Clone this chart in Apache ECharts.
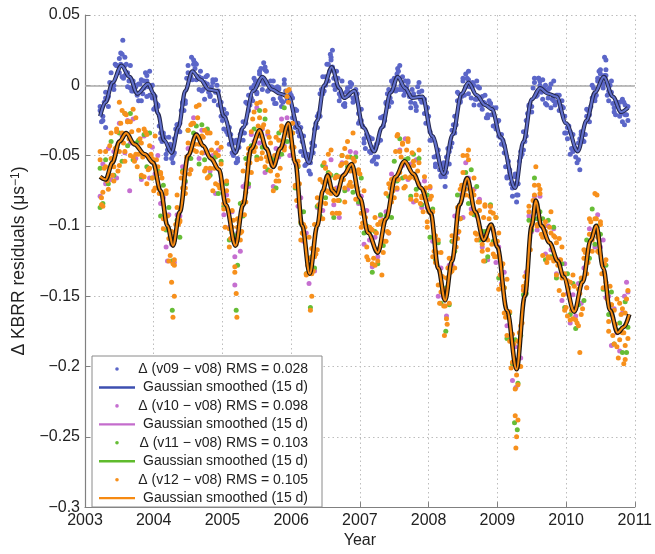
<!DOCTYPE html>
<html>
<head>
<meta charset="utf-8">
<script src="https://cdn.jsdelivr.net/npm/echarts@6/dist/echarts.min.js"></script>
<style>html,body{margin:0;padding:0;background:#fff}#c{width:655px;height:554px}</style>
</head>
<body>
<div id="c"></div>
<script>
// ---------- data (years, residuals in µs^-1) ----------
const years = [2003.22,2003.26,2003.30,2003.34,2003.38,2003.42,2003.46,2003.50,2003.54,2003.58,
2003.62,2003.66,2003.70,2003.74,2003.78,2003.82,2003.86,2003.90,2003.94,2003.98,
2004.02,2004.06,2004.10,2004.14,2004.18,2004.22,2004.26,2004.30,2004.34,2004.38,
2004.42,2004.46,2004.50,2004.54,2004.58,2004.62,2004.66,2004.70,2004.74,2004.78,
2004.82,2004.86,2004.90,2004.94,2004.98,2005.02,2005.06,2005.10,2005.14,2005.18,
2005.22,2005.26,2005.30,2005.34,2005.38,2005.42,2005.46,2005.50,2005.54,2005.58,
2005.62,2005.66,2005.70,2005.74,2005.78,2005.82,2005.86,2005.90,2005.94,2005.98,
2006.02,2006.06,2006.10,2006.14,2006.18,2006.22,2006.26,2006.30,2006.34,2006.38,
2006.42,2006.46,2006.50,2006.54,2006.58,2006.62,2006.66,2006.70,2006.74,2006.78,
2006.82,2006.86,2006.90,2006.94,2006.98,2007.02,2007.06,2007.10,2007.14,2007.18,
2007.22,2007.26,2007.30,2007.34,2007.38,2007.42,2007.46,2007.50,2007.54,2007.58,
2007.62,2007.66,2007.70,2007.74,2007.78,2007.82,2007.86,2007.90,2007.94,2007.98,
2008.02,2008.06,2008.10,2008.14,2008.18,2008.22,2008.26,2008.30,2008.34,2008.38,
2008.42,2008.46,2008.50,2008.54,2008.58,2008.62,2008.66,2008.70,2008.74,2008.78,
2008.82,2008.86,2008.90,2008.94,2008.98,2009.02,2009.06,2009.10,2009.14,2009.18,
2009.22,2009.26,2009.30,2009.34,2009.38,2009.42,2009.46,2009.50,2009.54,2009.58,
2009.62,2009.66,2009.70,2009.74,2009.78,2009.82,2009.86,2009.90,2009.94,2009.98,
2010.02,2010.06,2010.10,2010.14,2010.18,2010.22,2010.26,2010.30,2010.34,2010.38,
2010.42,2010.46,2010.50,2010.54,2010.58,2010.62,2010.66,2010.70,2010.74,2010.78,
2010.82,2010.86,2010.90];

const yearsMid = [2003.24,2003.28,2003.32,2003.36,2003.40,2003.44,2003.48,2003.52,2003.56,2003.60,
2003.64,2003.68,2003.72,2003.76,2003.80,2003.84,2003.88,2003.92,2003.96,2004.00,
2004.04,2004.08,2004.12,2004.16,2004.20,2004.24,2004.28,2004.32,2004.36,2004.40,
2004.44,2004.48,2004.52,2004.56,2004.60,2004.64,2004.68,2004.72,2004.76,2004.80,
2004.84,2004.88,2004.92,2004.96,2005.00,2005.04,2005.08,2005.12,2005.16,2005.20,
2005.24,2005.28,2005.32,2005.36,2005.40,2005.44,2005.48,2005.52,2005.56,2005.60,
2005.64,2005.68,2005.72,2005.76,2005.80,2005.84,2005.88,2005.92,2005.96,2006.00,
2006.04,2006.08,2006.12,2006.16,2006.20,2006.24,2006.28,2006.32,2006.36,2006.40,
2006.44,2006.48,2006.52,2006.56,2006.60,2006.64,2006.68,2006.72,2006.76,2006.80,
2006.84,2006.88,2006.92,2006.96,2007.00,2007.04,2007.08,2007.12,2007.16,2007.20,
2007.24,2007.28,2007.32,2007.36,2007.40,2007.44,2007.48,2007.52,2007.56,2007.60,
2007.64,2007.68,2007.72,2007.76,2007.80,2007.84,2007.88,2007.92,2007.96,2008.00,
2008.04,2008.08,2008.12,2008.16,2008.20,2008.24,2008.28,2008.32,2008.36,2008.40,
2008.44,2008.48,2008.52,2008.56,2008.60,2008.64,2008.68,2008.72,2008.76,2008.80,
2008.84,2008.88,2008.92,2008.96,2009.00,2009.04,2009.08,2009.12,2009.16,2009.20,
2009.24,2009.28,2009.32,2009.36,2009.40,2009.44,2009.48,2009.52,2009.56,2009.60,
2009.64,2009.68,2009.72,2009.76,2009.80,2009.84,2009.88,2009.92,2009.96,2010.00,
2010.04,2010.08,2010.12,2010.16,2010.20,2010.24,2010.28,2010.32,2010.36,2010.40,
2010.44,2010.48,2010.52,2010.56,2010.60,2010.64,2010.68,2010.72,2010.76,2010.80,
2010.84,2010.88];

const v09 = [-0.018,-0.022,-0.005,-0.008,0.001,-0.003,0.014,0.009,0.022,0.007,
0.009,-0.002,0.003,-0.001,-0.011,0.004,-0.002,0.003,-0.007,0.000,
-0.016,-0.014,-0.034,-0.036,-0.049,-0.044,-0.044,-0.048,-0.028,-0.027,
-0.013,-0.011,0.009,0.006,0.018,0.004,0.006,-0.004,0.002,0.001,
-0.008,0.004,-0.005,-0.004,-0.022,-0.017,-0.033,-0.030,-0.048,-0.047,
-0.052,-0.035,-0.026,-0.027,-0.007,-0.009,0.000,-0.005,0.010,0.003,
0.011,-0.004,-0.001,-0.010,-0.002,-0.002,-0.011,0.001,-0.009,-0.008,
-0.023,-0.017,-0.033,-0.030,-0.050,-0.051,-0.061,-0.045,-0.031,-0.030,
-0.006,-0.006,0.006,0.003,0.018,0.005,0.010,-0.006,-0.006,-0.015,
-0.004,-0.001,-0.009,-0.003,-0.020,-0.025,-0.041,-0.035,-0.047,-0.038,
-0.051,-0.041,-0.039,-0.022,-0.013,-0.015,0.003,0.000,0.008,-0.003,
0.006,-0.005,0.003,-0.012,-0.008,-0.015,-0.005,-0.004,-0.020,-0.016,
-0.033,-0.038,-0.056,-0.051,-0.064,-0.055,-0.062,-0.047,-0.041,-0.022,
-0.011,-0.012,0.005,-0.001,0.004,-0.009,0.000,-0.010,-0.002,-0.017,
-0.013,-0.021,-0.013,-0.016,-0.031,-0.025,-0.042,-0.048,-0.065,-0.060,
-0.073,-0.065,-0.070,-0.051,-0.046,-0.025,-0.014,-0.015,0.002,-0.005,
0.000,-0.010,0.000,-0.009,0.001,-0.011,-0.007,-0.018,-0.015,-0.022,
-0.038,-0.033,-0.047,-0.045,-0.053,-0.035,-0.035,-0.017,-0.021,-0.009,
-0.011,0.003,0.008,0.001,0.011,-0.004,-0.005,-0.019,-0.012,-0.022,
-0.010,-0.021,-0.015];

const v09Mid = [-0.026,-0.012,-0.010,0.002,-0.002,0.015,0.009,0.015,0.005,0.015,
0.003,-0.004,0.000,-0.007,0.001,-0.006,0.009,-0.001,-0.001,-0.017,
-0.013,-0.029,-0.040,-0.037,-0.046,-0.042,-0.050,-0.031,-0.032,-0.018,
-0.018,0.005,0.004,0.004,0.012,0.006,0.010,-0.003,0.006,-0.005,
-0.001,-0.011,0.000,-0.014,-0.025,-0.023,-0.035,-0.035,-0.050,-0.039,
-0.044,-0.032,-0.034,-0.013,-0.014,-0.011,0.003,0.003,0.012,0.001,
0.010,-0.003,-0.001,-0.013,-0.001,-0.009,-0.012,-0.004,-0.010,-0.007,
-0.023,-0.018,-0.036,-0.040,-0.057,-0.049,-0.055,-0.048,-0.027,-0.020,
-0.003,-0.004,0.015,0.010,0.013,-0.003,0.005,-0.008,-0.014,-0.005,
-0.007,0.001,-0.011,-0.006,-0.025,-0.029,-0.045,-0.037,-0.048,-0.053,
-0.042,-0.039,-0.023,-0.025,-0.006,-0.009,0.001,-0.004,0.010,0.000,
-0.007,-0.001,-0.008,-0.003,-0.013,-0.001,-0.010,-0.010,-0.027,-0.022,
-0.039,-0.051,-0.050,-0.060,-0.056,-0.065,-0.045,-0.044,-0.028,-0.028,
-0.006,-0.008,-0.007,0.005,-0.001,0.002,-0.010,-0.001,-0.014,-0.012,
-0.023,-0.011,-0.021,-0.029,-0.026,-0.037,-0.039,-0.058,-0.054,-0.070,
-0.070,-0.078,-0.054,-0.049,-0.040,-0.020,-0.015,-0.002,-0.008,0.005,
-0.005,-0.002,-0.014,-0.002,-0.010,-0.014,-0.007,-0.016,-0.016,-0.034,
-0.029,-0.045,-0.044,-0.055,-0.038,-0.039,-0.035,-0.018,-0.015,-0.002,
-0.007,0.010,0.003,0.007,-0.007,0.000,-0.013,-0.021,-0.015,-0.020,
-0.012,-0.021];

const v09Late = [-0.015,-0.025,-0.009,-0.015,0.009,0.000,0.014,0.019,0.006,0.014,
-0.001,0.014,-0.004,0.000,0.001,-0.011,0.003,-0.008,0.010,-0.009,
-0.008,-0.015,-0.038,-0.034,-0.052,-0.037,-0.052,-0.038,-0.028,-0.033,
-0.012,-0.013,0.014,0.005,0.015,0.015,-0.003,0.005,-0.010,0.007,
-0.007,0.002,0.004,-0.014,-0.012,-0.031,-0.020,-0.042,-0.039,-0.041,
-0.054,-0.035,-0.039,-0.012,-0.018,-0.002,0.005,-0.006,0.008,-0.003,
0.013,-0.004,0.003,0.003,-0.013,-0.003,-0.015,0.004,-0.011,-0.005,
-0.009,-0.030,-0.027,-0.047,-0.036,-0.056,-0.050,-0.041,-0.043,-0.022,
-0.022,0.006,0.000,0.015,0.020,0.000,0.005,-0.011,0.003,-0.013,
-0.002,0.002,-0.012,-0.007,-0.027,-0.017,-0.038,-0.035,-0.037,-0.054,
-0.044,-0.051,-0.023,-0.029,-0.012,-0.003,-0.012,0.005,-0.003,0.014,
-0.003,0.003,0.002,-0.016,-0.006,-0.018,0.002,-0.012,-0.010,-0.016,
-0.039,-0.037,-0.058,-0.046,-0.065,-0.058,-0.051,-0.056,-0.032,-0.034,
-0.005,-0.011,0.003,0.008,-0.006,0.001,-0.014,0.003,-0.014,-0.008,
-0.007,-0.023,-0.013,-0.029,-0.016,-0.036,-0.035,-0.043,-0.066,-0.062,
-0.079,-0.063,-0.070,-0.047,-0.033,-0.036,-0.015,-0.019,0.005,-0.007,
0.003,0.004,-0.013,-0.003,-0.016,0.003,-0.012,-0.007,-0.011,-0.034,
-0.030,-0.049,-0.035,-0.051,-0.041,-0.033,-0.040,-0.022,-0.026,0.000,
-0.009,0.005,0.011,-0.002,0.007,-0.011,0.003,-0.016,-0.012,-0.012,
-0.026,-0.014,-0.025];

const v10 = [-0.079,-0.056,-0.070,-0.045,-0.067,-0.047,-0.066,-0.027,-0.036,-0.048,
-0.025,-0.041,-0.024,-0.052,-0.040,-0.067,-0.036,-0.050,-0.066,-0.044,
-0.063,-0.050,-0.084,-0.080,-0.115,-0.092,-0.113,-0.126,-0.092,-0.093,
-0.058,-0.069,-0.045,-0.060,-0.023,-0.035,-0.052,-0.032,-0.048,-0.032,
-0.061,-0.050,-0.077,-0.046,-0.068,-0.092,-0.078,-0.101,-0.090,-0.122,
-0.105,-0.118,-0.072,-0.070,-0.072,-0.035,-0.040,-0.016,-0.041,-0.031,
-0.062,-0.035,-0.054,-0.072,-0.045,-0.051,-0.024,-0.043,-0.023,-0.050,
-0.027,-0.055,-0.086,-0.080,-0.111,-0.105,-0.141,-0.123,-0.132,-0.087,
-0.085,-0.089,-0.058,-0.067,-0.053,-0.085,-0.073,-0.094,-0.055,-0.063,
-0.074,-0.047,-0.061,-0.048,-0.084,-0.079,-0.113,-0.089,-0.110,-0.129,
-0.108,-0.122,-0.093,-0.111,-0.090,-0.105,-0.063,-0.068,-0.074,-0.046,
-0.057,-0.038,-0.067,-0.056,-0.083,-0.053,-0.070,-0.087,-0.068,-0.087,
-0.073,-0.111,-0.111,-0.150,-0.130,-0.151,-0.164,-0.128,-0.128,-0.093,
-0.105,-0.078,-0.094,-0.055,-0.066,-0.088,-0.074,-0.093,-0.081,-0.115,
-0.105,-0.124,-0.086,-0.103,-0.126,-0.115,-0.141,-0.133,-0.171,-0.171,
-0.210,-0.186,-0.200,-0.194,-0.145,-0.133,-0.093,-0.104,-0.079,-0.103,
-0.079,-0.101,-0.120,-0.100,-0.117,-0.102,-0.134,-0.124,-0.153,-0.127,
-0.148,-0.169,-0.149,-0.164,-0.141,-0.155,-0.130,-0.144,-0.102,-0.106,
-0.115,-0.092,-0.115,-0.110,-0.151,-0.150,-0.185,-0.159,-0.176,-0.189,
-0.162,-0.171,-0.147];

const v11 = [-0.059,-0.084,-0.053,-0.070,-0.040,-0.064,-0.044,-0.034,-0.054,-0.020,
-0.043,-0.020,-0.053,-0.041,-0.039,-0.065,-0.035,-0.058,-0.034,-0.066,
-0.058,-0.061,-0.093,-0.071,-0.103,-0.087,-0.125,-0.110,-0.096,-0.108,
-0.061,-0.068,-0.032,-0.052,-0.034,-0.029,-0.056,-0.028,-0.053,-0.031,
-0.064,-0.053,-0.051,-0.077,-0.054,-0.086,-0.070,-0.110,-0.105,-0.107,
-0.128,-0.084,-0.093,-0.052,-0.070,-0.043,-0.031,-0.051,-0.018,-0.044,
-0.024,-0.060,-0.052,-0.052,-0.073,-0.034,-0.049,-0.016,-0.040,-0.028,
-0.034,-0.073,-0.058,-0.098,-0.090,-0.134,-0.130,-0.122,-0.130,-0.086,
-0.093,-0.057,-0.080,-0.062,-0.064,-0.094,-0.064,-0.082,-0.050,-0.075,
-0.058,-0.051,-0.076,-0.051,-0.083,-0.066,-0.105,-0.100,-0.104,-0.133,
-0.104,-0.127,-0.092,-0.114,-0.093,-0.079,-0.094,-0.054,-0.068,-0.038,
-0.066,-0.053,-0.052,-0.079,-0.049,-0.074,-0.052,-0.085,-0.076,-0.078,
-0.108,-0.088,-0.124,-0.112,-0.155,-0.149,-0.144,-0.156,-0.111,-0.118,
-0.078,-0.095,-0.072,-0.062,-0.084,-0.060,-0.092,-0.072,-0.110,-0.104,
-0.104,-0.122,-0.085,-0.111,-0.094,-0.137,-0.136,-0.144,-0.180,-0.162,
-0.198,-0.181,-0.212,-0.178,-0.149,-0.148,-0.096,-0.103,-0.066,-0.095,
-0.090,-0.095,-0.124,-0.096,-0.122,-0.101,-0.137,-0.127,-0.127,-0.158,
-0.134,-0.163,-0.141,-0.173,-0.156,-0.140,-0.153,-0.110,-0.123,-0.088,
-0.113,-0.100,-0.106,-0.145,-0.128,-0.163,-0.147,-0.184,-0.174,-0.169,
-0.190,-0.154,-0.172];

const v12 = [-0.053,-0.076,-0.047,-0.066,-0.052,-0.068,-0.031,-0.047,-0.034,-0.047,
-0.026,-0.026,-0.051,-0.023,-0.049,-0.041,-0.065,-0.035,-0.059,-0.052,
-0.073,-0.058,-0.063,-0.095,-0.075,-0.109,-0.107,-0.128,-0.087,-0.097,
-0.073,-0.073,-0.041,-0.028,-0.046,-0.015,-0.042,-0.036,-0.061,-0.034,
-0.059,-0.053,-0.070,-0.050,-0.056,-0.088,-0.068,-0.102,-0.101,-0.129,
-0.095,-0.105,-0.083,-0.083,-0.049,-0.033,-0.047,-0.013,-0.036,-0.030,
-0.058,-0.033,-0.061,-0.056,-0.068,-0.039,-0.029,-0.044,-0.008,-0.034,
-0.034,-0.071,-0.057,-0.097,-0.106,-0.135,-0.123,-0.116,-0.122,-0.080,
-0.089,-0.069,-0.084,-0.049,-0.077,-0.074,-0.091,-0.065,-0.056,-0.073,
-0.040,-0.061,-0.052,-0.081,-0.060,-0.091,-0.091,-0.115,-0.101,-0.103,
-0.128,-0.099,-0.114,-0.096,-0.111,-0.070,-0.083,-0.066,-0.073,-0.047,
-0.042,-0.065,-0.038,-0.065,-0.057,-0.082,-0.055,-0.080,-0.076,-0.097,
-0.081,-0.090,-0.126,-0.110,-0.147,-0.145,-0.166,-0.123,-0.132,-0.108,
-0.109,-0.074,-0.062,-0.078,-0.046,-0.078,-0.078,-0.106,-0.083,-0.113,
-0.108,-0.117,-0.090,-0.091,-0.122,-0.105,-0.142,-0.144,-0.178,-0.161,
-0.197,-0.197,-0.213,-0.171,-0.143,-0.140,-0.090,-0.099,-0.078,-0.099,
-0.077,-0.108,-0.104,-0.123,-0.105,-0.107,-0.135,-0.109,-0.137,-0.134,
-0.164,-0.140,-0.166,-0.159,-0.171,-0.137,-0.123,-0.134,-0.095,-0.110,
-0.095,-0.118,-0.097,-0.134,-0.140,-0.168,-0.156,-0.160,-0.186,-0.155,
-0.176,-0.162,-0.180];

const v12Mid = [-0.080,-0.059,-0.068,-0.043,-0.064,-0.045,-0.061,-0.027,-0.041,-0.021,
-0.038,-0.033,-0.054,-0.058,-0.038,-0.051,-0.033,-0.060,-0.049,-0.075,
-0.053,-0.077,-0.066,-0.091,-0.093,-0.121,-0.127,-0.099,-0.099,-0.066,
-0.077,-0.051,-0.063,-0.027,-0.042,-0.023,-0.041,-0.037,-0.059,-0.065,
-0.046,-0.059,-0.041,-0.073,-0.069,-0.101,-0.082,-0.109,-0.096,-0.113,
-0.097,-0.104,-0.092,-0.056,-0.055,-0.024,-0.044,-0.029,-0.052,-0.028,
-0.051,-0.037,-0.057,-0.050,-0.064,-0.059,-0.030,-0.034,-0.012,-0.044,
-0.044,-0.082,-0.070,-0.105,-0.101,-0.128,-0.123,-0.132,-0.120,-0.085,
-0.083,-0.055,-0.075,-0.063,-0.091,-0.066,-0.082,-0.057,-0.067,-0.055,
-0.071,-0.072,-0.054,-0.073,-0.063,-0.098,-0.094,-0.124,-0.102,-0.123,
-0.105,-0.116,-0.099,-0.111,-0.104,-0.073,-0.075,-0.047,-0.067,-0.051,
-0.073,-0.046,-0.066,-0.048,-0.066,-0.061,-0.084,-0.090,-0.073,-0.090,
-0.079,-0.118,-0.119,-0.155,-0.136,-0.157,-0.130,-0.133,-0.111,-0.115,
-0.104,-0.071,-0.074,-0.050,-0.079,-0.075,-0.105,-0.083,-0.108,-0.094,
-0.108,-0.095,-0.113,-0.122,-0.111,-0.135,-0.127,-0.165,-0.165,-0.201,
-0.184,-0.206,-0.176,-0.169,-0.136,-0.132,-0.117,-0.082,-0.087,-0.071,
-0.106,-0.100,-0.126,-0.101,-0.123,-0.108,-0.128,-0.124,-0.149,-0.158,
-0.144,-0.160,-0.143,-0.169,-0.148,-0.159,-0.119,-0.126,-0.097,-0.105,
-0.095,-0.119,-0.134,-0.127,-0.152,-0.143,-0.178,-0.170,-0.194,-0.163,
-0.176,-0.152];

const v12Late = [-0.047,-0.086,-0.058,-0.074,-0.034,-0.058,-0.033,-0.057,-0.018,-0.054,
-0.026,-0.050,-0.017,-0.049,-0.032,-0.064,-0.031,-0.070,-0.043,-0.066,
-0.036,-0.073,-0.062,-0.102,-0.077,-0.125,-0.104,-0.124,-0.078,-0.096,
-0.062,-0.077,-0.032,-0.060,-0.027,-0.047,-0.014,-0.048,-0.032,-0.066,
-0.034,-0.075,-0.048,-0.071,-0.044,-0.084,-0.075,-0.115,-0.089,-0.133,
-0.101,-0.110,-0.061,-0.076,-0.045,-0.062,-0.019,-0.053,-0.023,-0.048,
-0.018,-0.054,-0.041,-0.075,-0.037,-0.068,-0.032,-0.046,-0.004,-0.036,
-0.027,-0.072,-0.054,-0.110,-0.099,-0.134,-0.108,-0.134,-0.099,-0.117,
-0.067,-0.095,-0.059,-0.076,-0.046,-0.082,-0.065,-0.091,-0.050,-0.083,
-0.051,-0.069,-0.034,-0.071,-0.062,-0.101,-0.075,-0.122,-0.101,-0.127,
-0.094,-0.125,-0.097,-0.119,-0.077,-0.105,-0.067,-0.080,-0.036,-0.062,
-0.041,-0.072,-0.040,-0.081,-0.054,-0.078,-0.046,-0.079,-0.065,-0.101,
-0.072,-0.122,-0.107,-0.142,-0.119,-0.157,-0.137,-0.155,-0.107,-0.130,
-0.087,-0.095,-0.050,-0.074,-0.053,-0.091,-0.066,-0.110,-0.089,-0.118,
-0.086,-0.110,-0.086,-0.120,-0.094,-0.145,-0.129,-0.162,-0.138,-0.182,
-0.177,-0.216,-0.182,-0.200,-0.146,-0.142,-0.086,-0.101,-0.071,-0.100,
-0.074,-0.121,-0.097,-0.122,-0.090,-0.125,-0.112,-0.146,-0.115,-0.160,
-0.139,-0.167,-0.135,-0.167,-0.145,-0.163,-0.117,-0.144,-0.106,-0.118,
-0.077,-0.108,-0.099,-0.144,-0.124,-0.175,-0.156,-0.184,-0.152,-0.181,
-0.159,-0.185,-0.146];

// isolated points (outliers) [year, value]
const v09Extra = [[2003.30,-0.030],[2003.52,0.023],[2003.55,0.032],[2003.58,0.020],[2003.90,0.007],[2004.28,-0.055],[2004.55,0.020],[2004.60,0.016],[2005.20,-0.055],[2005.60,0.016],[2006.28,-0.063],[2006.57,0.022],[2006.60,0.025],[2007.24,-0.056],[2007.55,0.012],[2008.24,-0.072],[2008.58,0.010],[2009.28,-0.083],[2009.30,-0.078],[2009.60,0.005],[2010.20,-0.060],[2010.56,0.020],[2010.58,0.018],[2010.85,-0.028]];
const v10Extra = [[2003.65,-0.075],[2004.20,-0.125],[2005.18,-0.142],[2009.27,-0.215],[2010.85,-0.150],[2010.88,-0.140]];
const v11Extra = [[2003.22,-0.087],[2004.27,-0.160],[2005.20,-0.160],[2006.28,-0.158],[2008.25,-0.175],[2009.25,-0.240],[2009.29,-0.245],[2008.82,-0.125],[2010.88,-0.190]];
const v12Extra = [[2003.24,-0.085],[2003.50,-0.012],[2003.58,-0.020],[2004.26,-0.140],[2004.28,-0.165],[2004.30,-0.150],[2005.20,-0.148],[2005.21,-0.165],[2005.55,-0.012],[2005.97,-0.003],[2006.28,-0.160],[2006.30,-0.150],[2006.78,-0.045],[2007.32,-0.135],[2007.55,-0.035],[2008.23,-0.178],[2008.27,-0.170],[2008.82,-0.085],[2008.80,-0.125],[2009.26,-0.235],[2009.28,-0.250],[2009.30,-0.238],[2009.27,-0.258],[2009.56,-0.058],[2010.20,-0.190],[2010.45,-0.078],[2010.86,-0.195],[2010.84,-0.198]];

// Gaussian smoothed (15 d) curves, read at turning points
const smooth09Years = [2003.22,2003.30,2003.40,2003.53,2003.65,2003.76,2003.92,2004.00,2004.06,2004.15,2004.26,2004.36,2004.46,2004.56,2004.68,2004.80,2004.92,2005.02,2005.19,2005.30,2005.45,2005.58,2005.72,2005.84,2005.96,2006.10,2006.26,2006.38,2006.48,2006.59,2006.70,2006.77,2006.92,2007.05,2007.21,2007.32,2007.45,2007.55,2007.66,2007.76,2007.91,2008.05,2008.22,2008.35,2008.48,2008.58,2008.70,2008.82,2008.92,2009.05,2009.26,2009.38,2009.50,2009.62,2009.74,2009.86,2010.00,2010.17,2010.30,2010.42,2010.55,2010.68,2010.80,2010.90];
const smooth09Vals = [-0.022,-0.012,0.002,0.014,0.006,-0.006,0.001,-0.006,-0.020,-0.039,-0.048,-0.030,-0.004,0.010,0.004,-0.003,-0.004,-0.022,-0.048,-0.030,-0.004,0.006,-0.003,-0.006,-0.008,-0.030,-0.055,-0.025,0.000,0.013,-0.002,-0.009,-0.004,-0.030,-0.047,-0.030,-0.005,0.006,-0.002,-0.009,-0.008,-0.036,-0.063,-0.035,-0.006,0.002,-0.007,-0.014,-0.017,-0.037,-0.073,-0.040,-0.010,-0.002,-0.006,-0.008,-0.027,-0.047,-0.025,-0.005,0.006,-0.008,-0.019,-0.016];
const smooth12Years = [2003.22,2003.30,2003.40,2003.50,2003.60,2003.72,2003.87,2003.99,2004.10,2004.20,2004.28,2004.38,2004.50,2004.62,2004.72,2004.83,2004.95,2005.05,2005.19,2005.30,2005.42,2005.54,2005.64,2005.74,2005.84,2005.96,2006.06,2006.16,2006.27,2006.38,2006.46,2006.53,2006.60,2006.66,2006.76,2006.88,2007.00,2007.12,2007.26,2007.38,2007.52,2007.65,2007.78,2007.89,2008.03,2008.14,2008.24,2008.34,2008.45,2008.56,2008.68,2008.80,2008.91,2009.00,2009.14,2009.28,2009.40,2009.50,2009.56,2009.64,2009.76,2009.88,2009.96,2010.12,2010.24,2010.36,2010.44,2010.54,2010.64,2010.75,2010.84,2010.92];
const smooth12Vals = [-0.065,-0.067,-0.055,-0.040,-0.034,-0.042,-0.049,-0.055,-0.075,-0.100,-0.114,-0.090,-0.050,-0.035,-0.043,-0.052,-0.060,-0.085,-0.114,-0.085,-0.045,-0.032,-0.045,-0.058,-0.045,-0.027,-0.055,-0.100,-0.134,-0.100,-0.075,-0.064,-0.075,-0.078,-0.064,-0.056,-0.080,-0.105,-0.119,-0.095,-0.065,-0.054,-0.063,-0.073,-0.091,-0.130,-0.153,-0.125,-0.085,-0.066,-0.090,-0.110,-0.099,-0.115,-0.160,-0.202,-0.150,-0.100,-0.082,-0.100,-0.112,-0.125,-0.136,-0.161,-0.140,-0.110,-0.100,-0.130,-0.160,-0.176,-0.172,-0.163];

const yTicks = [-0.3,-0.25,-0.2,-0.15,-0.1,-0.05,0,0.05];
const xTicks = [2003,2004,2005,2006,2007,2008,2009,2010,2011];
const legendLabels = ['\u0394 (v09 \u2212 v08) RMS = 0.028','Gaussian smoothed (15 d)','\u0394 (v10 \u2212 v08) RMS = 0.098','Gaussian smoothed (15 d)','\u0394 (v11 \u2212 v08) RMS = 0.103','Gaussian smoothed (15 d)','\u0394 (v12 \u2212 v08) RMS = 0.105','Gaussian smoothed (15 d)'];

// ---------- chart ----------
const FONT = 'Liberation Sans, Arial, Helvetica, sans-serif';
const C = {
  blueDot:'#5b66c8', blueLine:'#6170cc', blueOutline:'#24274e', blueLeg:'#3d4fb0',
  purpleDot:'#c56fd0', purpleLeg:'#c46ccc',
  greenDot:'#66bd36', greenLeg:'#5fbb2c',
  orangeDot:'#f7901c', orangeLine:'#f68a12', orangeOutline:'#1e1712', orangeLeg:'#f68a12'
};
const pairs = (xs, ys) => xs.map((x, i) => [x, ys[i]]);

const chart = echarts.init(document.getElementById('c'), null, {renderer:'canvas'});

function scatter(name, data, color, z) {
  return {name, type:'scatter', data, symbolSize:5, itemStyle:{color, opacity:1},
    z, silent:true, animation:false, large:false};
}
function line(name, data, color, width, z) {
  return {name, type:'line', data, smooth:0.35, smoothMonotone:'x', showSymbol:false,
    lineStyle:{color, width}, z, silent:true, animation:false};
}

const legendGraphics = [{
  type:'rect', z:200, shape:{x:92, y:356, width:230, height:151},
  style:{fill:'#fff', stroke:'#8a8a8a', lineWidth:1}
}];
const legendColors = [C.blueDot, C.blueLeg, C.purpleDot, C.purpleLeg, C.greenDot, C.greenLeg, C.orangeDot, C.orangeLeg];
legendLabels.forEach((t, i) => {
  const cy = 369 + i * 18.45;
  if (i % 2 === 0) {
    legendGraphics.push({type:'circle', z:201, shape:{cx:117, cy, r:1.8}, style:{fill:legendColors[i]}});
  } else {
    legendGraphics.push({type:'line', z:201, shape:{x1:99, y1:cy, x2:135, y2:cy}, style:{stroke:legendColors[i], lineWidth:2.4}});
  }
  legendGraphics.push({type:'text', z:201, style:{text:t, x:308, y:cy, align:'right', verticalAlign:'middle',
    fontSize:14, fontFamily:FONT, fill:'#222'}});
});

const option = {
  animation:false,
  backgroundColor:'#fff',
  grid:{left:85, right:17, top:15, bottom:39, containLabel:false},
  xAxis:{
    type:'value', min:xTicks[0], max:xTicks[xTicks.length-1], interval:1,
    name:'Year', nameLocation:'middle', nameGap:23,
    nameTextStyle:{fontSize:16, fontFamily:FONT, color:'#222'},
    axisLine:{show:true, onZero:false, lineStyle:{color:'#808080', width:1.2}},
    axisTick:{show:true, inside:true, length:5, lineStyle:{color:'#808080'}},
    axisLabel:{fontSize:16, fontFamily:FONT, color:'#222', margin:5, formatter:v => String(Math.round(v))},
    splitLine:{show:true, lineStyle:{color:'#bdbdbd', width:1, type:[1.5,3]}}
  },
  yAxis:{
    type:'value', min:yTicks[0], max:yTicks[yTicks.length-1], interval:0.05,
    name:'{a|\u0394 KBRR residuals (\u03bcs}{s|\u22121}{a|)}', nameLocation:'middle', nameGap:38,
    nameTextStyle:{fontSize:17, fontFamily:FONT, color:'#222',
      rich:{a:{fontSize:17.5, fontFamily:FONT, color:'#222', lineHeight:20},
            s:{fontSize:12, fontFamily:FONT, color:'#222', verticalAlign:'top', lineHeight:20}}},
    axisLine:{show:true, onZero:false, lineStyle:{color:'#808080', width:1.2}},
    axisTick:{show:true, inside:true, length:5, lineStyle:{color:'#808080'}},
    axisLabel:{fontSize:16, fontFamily:FONT, color:'#222', margin:5,
      formatter:v => String(Math.round(v * 100) / 100).replace('-', '\u2212')},
    splitLine:{show:true, lineStyle:{color:'#bdbdbd', width:1, type:[1.5,3]}}
  },
  graphic:legendGraphics,
  series:[
    Object.assign(scatter('v09', pairs(years, v09).concat(pairs(yearsMid, v09Mid), pairs(years, v09Late), v09Extra), C.blueDot, 3), {
      markLine:{z:1, silent:true, symbol:['none','none'], label:{show:false},
        lineStyle:{color:'#a8a8a8', width:1.6, type:'solid'}, data:[{yAxis:0}]}
    }),
    line('s09o', pairs(smooth09Years, smooth09Vals), C.blueOutline, 4.2, 4),
    line('s09', pairs(smooth09Years, smooth09Vals), C.blueLine, 2.2, 5),
    scatter('v10', pairs(years, v10).concat(v10Extra), C.purpleDot, 6),
    scatter('v11', pairs(years, v11).concat(v11Extra), C.greenDot, 7),
    scatter('v12', pairs(years, v12).concat(pairs(yearsMid, v12Mid), pairs(years, v12Late), v12Extra), C.orangeDot, 8),
    line('s12o', pairs(smooth12Years, smooth12Vals), C.orangeOutline, 4.6, 9),
    line('s12', pairs(smooth12Years, smooth12Vals), C.orangeLine, 2.2, 10)
  ]
};
chart.setOption(option);
</script>
</body>
</html>
